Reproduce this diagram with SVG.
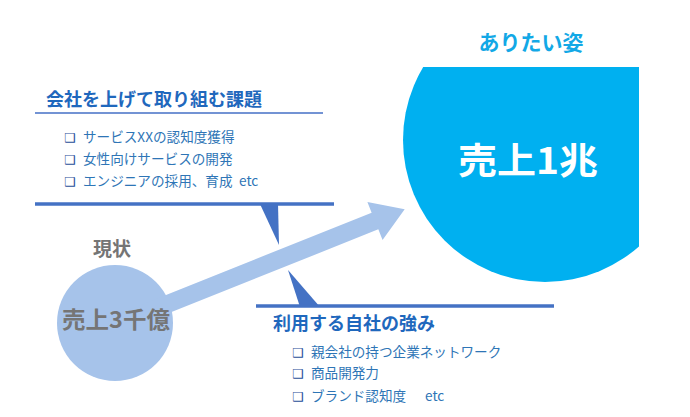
<svg xmlns="http://www.w3.org/2000/svg" width="690" height="417" viewBox="0 0 690 417">
<defs>
<style>
.jp{font-family:"Noto Sans CJK JP","Noto Sans",sans-serif}
.head{font-size:18px;font-weight:bold;fill:#1F68BD}
.item{font-size:13.6px;fill:#2E75B6}
.box{font-family:"DejaVu Sans",sans-serif;font-size:12.5px;fill:#1F4E99}
.gray{fill:#757575;font-weight:bold}
</style>
<clipPath id="slide"><rect x="0" y="67" width="639" height="350"/></clipPath>
</defs>
<rect width="690" height="417" fill="#ffffff"/>

<g id="goal">
<circle cx="545" cy="140" r="142" fill="#00B0F0" clip-path="url(#slide)"/>
<text class="jp" x="531" y="50" font-size="21" font-weight="bold" fill="#12A8E6" text-anchor="middle">ありたい姿</text>
<text class="jp" x="458" y="174" font-size="36" font-weight="bold" fill="#ffffff" textLength="140" lengthAdjust="spacingAndGlyphs">売上1兆</text>
</g>

<g id="issues">
<text class="jp head" x="46" y="106">会社を上げて取り組む課題</text>
<line x1="35" y1="113" x2="323" y2="113" stroke="#7393D4" stroke-width="2"/>
<text class="box" x="64" y="142">❑</text>
<text class="jp item" x="83" y="142">サービスXXの認知度獲得</text>
<text class="box" x="64" y="164">❑</text>
<text class="jp item" x="83" y="164">女性向けサービスの開発</text>
<text class="box" x="64" y="186">❑</text>
<text class="jp item" x="83" y="186">エンジニアの採用、育成</text>
<text class="jp item" x="239" y="186">etc</text>
</g>

<g id="connectors">
<line x1="35" y1="204" x2="334" y2="204" stroke="#4472C4" stroke-width="3.5"/>
<polygon points="260,204 278,204 279,245" fill="#4472C4"/>
<polygon points="288,270 300,307 320,307" fill="#4472C4"/>
<line x1="256" y1="306" x2="554" y2="306" stroke="#4472C4" stroke-width="3.5"/>
</g>

<g id="current">
<text class="jp gray" x="112" y="256" font-size="19" text-anchor="middle">現状</text>
<circle cx="115" cy="323" r="58" fill="#A6C3EA"/>
<g transform="translate(115,325) rotate(-21.8)">
<polygon points="0,-9 280,-9 280,-20.4 312,0 280,20.4 280,9 0,9" fill="#A6C3EA"/>
</g>
<text class="jp gray" x="62" y="328" font-size="23" textLength="108" lengthAdjust="spacingAndGlyphs">売上3千億</text>
</g>

<g id="strengths">
<text class="jp head" x="273" y="330">利用する自社の強み</text>
<text class="box" x="292" y="357">❑</text>
<text class="jp item" x="311" y="357">親会社の持つ企業ネットワーク</text>
<text class="box" x="292" y="378">❑</text>
<text class="jp item" x="311" y="378">商品開発力</text>
<text class="box" x="292" y="401">❑</text>
<text class="jp item" x="311" y="401">ブランド認知度</text>
<text class="jp item" x="425" y="401">etc</text>
</g>
</svg>
